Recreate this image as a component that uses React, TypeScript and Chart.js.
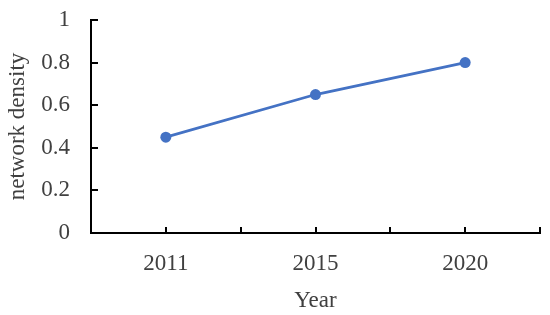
import React, { useEffect, useRef } from "react";
import { Chart, registerables } from "chart.js";

Chart.register(...registerables);

const years = ["2011", "2015", "2020"];
const density = [0.45, 0.65, 0.8];
const yTitle = "network density";
const xTitle = "Year";

const FONT = "'Liberation Serif', 'Times New Roman', serif";
const TEXT = "#404040";
const BLUE = "#4472C4";
const FS = 23;

const inwardTicks = {
  id: "inwardTicks",
  afterDatasetsDraw(chart: any) {
    const { ctx, scales } = chart;
    const x = scales.x;
    const y = scales.y;
    ctx.save();
    ctx.strokeStyle = "#000";
    ctx.lineWidth = 2;
    const n = years.length;
    for (let i = -0.5; i <= n - 0.5 + 1e-6; i += 0.5) {
      const px = Math.round(x.getPixelForValue(i));
      ctx.beginPath();
      ctx.moveTo(px, y.bottom);
      ctx.lineTo(px, y.bottom - 6);
      ctx.stroke();
    }
    y.ticks.forEach((t: any) => {
      const py = Math.round(y.getPixelForValue(t.value));
      ctx.beginPath();
      ctx.moveTo(x.left, py);
      ctx.lineTo(x.left + 7, py);
      ctx.stroke();
    });
    ctx.restore();
  },
};

export default function App() {
  const ref = useRef<HTMLCanvasElement | null>(null);
  useEffect(() => {
    if (!ref.current) return;
    const chart = new Chart(ref.current, {
      type: "line",
      data: {
        labels: years,
        datasets: [
          {
            data: density,
            borderColor: BLUE,
            backgroundColor: BLUE,
            borderWidth: 2.75,
            pointRadius: 5.5,
            pointBorderWidth: 0,
            pointBackgroundColor: BLUE,
            tension: 0,
          },
        ],
      },
      options: {
        animation: false,
        responsive: false,
        devicePixelRatio: 1,
        layout: { padding: { left: 0, right: 10, top: 20, bottom: 0 } },
        plugins: { legend: { display: false }, tooltip: { enabled: false } },
        scales: {
          x: {
            type: "category",
            offset: true,
            grid: { display: false, drawTicks: false },
            border: { display: true, color: "#000", width: 2 },
            ticks: {
              color: TEXT,
              font: { family: FONT, size: FS },
              padding: 17,
              maxRotation: 0,
            },
            title: {
              display: true,
              text: xTitle,
              color: TEXT,
              font: { family: FONT, size: FS },
              padding: { top: 0, bottom: 0 },
            },
            afterFit: (s: any) => {
              s.height = 82;
              s.paddingLeft = 0;
              s.paddingRight = 0;
            },
          },
          y: {
            min: 0,
            max: 1,
            ticks: {
              stepSize: 0.2,
              color: TEXT,
              font: { family: FONT, size: FS },
              padding: 21,
              callback: (v: any) => String(Math.round(Number(v) * 10) / 10),
            },
            grid: { display: false, drawTicks: false },
            border: { display: true, color: "#000", width: 2 },
            title: {
              display: true,
              text: yTitle,
              color: TEXT,
              font: { family: FONT, size: FS },
              padding: { top: 4, bottom: 0 },
            },
            afterFit: (s: any) => {
              s.width = 91;
              s.paddingTop = 0;
              s.paddingBottom = 0;
            },
          },
        },
      },
      plugins: [inwardTicks],
    });
    return () => chart.destroy();
  }, []);
  return (
    <div style={{ position: "absolute", left: 0, top: 0, width: 550, height: 315, background: "#fff" }}>
      <canvas ref={ref} width={550} height={315} />
    </div>
  );
}
